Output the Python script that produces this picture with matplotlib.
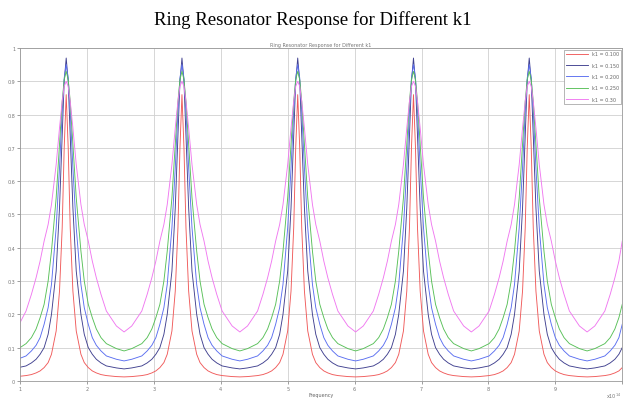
import matplotlib
matplotlib.use("Agg")
import matplotlib.pyplot as plt

# frequency axis (x 10^14), read at points around each resonance
freq = [1.00, 1.09, 1.17, 1.24, 1.30, 1.36, 1.42, 1.47, 1.54, 1.59, 1.63, 1.66, 1.69,
        1.72, 1.75, 1.79, 1.84, 1.91, 1.96, 2.02, 2.08, 2.14, 2.21, 2.29, 2.44, 2.555,
        2.67, 2.82, 2.90, 2.97, 3.03, 3.09, 3.15, 3.20, 3.27, 3.32, 3.36, 3.39, 3.42,
        3.45, 3.48, 3.52, 3.57, 3.64, 3.69, 3.75, 3.81, 3.87, 3.94, 4.02, 4.17, 4.285,
        4.40, 4.55, 4.63, 4.70, 4.76, 4.82, 4.88, 4.93, 5.00, 5.05, 5.09, 5.12, 5.15,
        5.18, 5.21, 5.25, 5.30, 5.37, 5.42, 5.48, 5.54, 5.60, 5.67, 5.75, 5.90, 6.015,
        6.13, 6.28, 6.36, 6.43, 6.49, 6.55, 6.61, 6.66, 6.73, 6.78, 6.82, 6.85, 6.88,
        6.91, 6.94, 6.98, 7.03, 7.10, 7.15, 7.21, 7.27, 7.33, 7.40, 7.48, 7.63, 7.745,
        7.86, 8.01, 8.09, 8.16, 8.22, 8.28, 8.34, 8.39, 8.46, 8.51, 8.55, 8.58, 8.61,
        8.64, 8.67, 8.71, 8.76, 8.83, 8.88, 8.94, 9.00, 9.06, 9.13, 9.21, 9.36, 9.475,
        9.59, 9.74, 9.82, 9.89, 9.95, 10.00]

k1_red = [0.014, 0.016, 0.019, 0.024, 0.03, 0.04, 0.055, 0.08, 0.15, 0.27, 0.46, 0.70, 0.86,
          0.70, 0.46, 0.27, 0.15, 0.08, 0.055, 0.04, 0.03, 0.024, 0.019, 0.016, 0.013, 0.012,
          0.013, 0.016, 0.019, 0.024, 0.03, 0.04, 0.055, 0.08, 0.15, 0.27, 0.46, 0.70, 0.86,
          0.70, 0.46, 0.27, 0.15, 0.08, 0.055, 0.04, 0.03, 0.024, 0.019, 0.016, 0.013, 0.012,
          0.013, 0.016, 0.019, 0.024, 0.03, 0.04, 0.055, 0.08, 0.15, 0.27, 0.46, 0.70, 0.86,
          0.70, 0.46, 0.27, 0.15, 0.08, 0.055, 0.04, 0.03, 0.024, 0.019, 0.016, 0.013, 0.012,
          0.013, 0.016, 0.019, 0.024, 0.03, 0.04, 0.055, 0.08, 0.15, 0.27, 0.46, 0.70, 0.86,
          0.70, 0.46, 0.27, 0.15, 0.08, 0.055, 0.04, 0.03, 0.024, 0.019, 0.016, 0.013, 0.012,
          0.013, 0.016, 0.019, 0.024, 0.03, 0.04, 0.055, 0.08, 0.15, 0.27, 0.46, 0.70, 0.86,
          0.70, 0.46, 0.27, 0.15, 0.08, 0.055, 0.04, 0.03, 0.024, 0.019, 0.016, 0.013, 0.012,
          0.013, 0.016, 0.019, 0.024, 0.03, 0.04]

k1_navy = [0.041, 0.045, 0.054, 0.065, 0.08, 0.10, 0.14, 0.20, 0.33, 0.52, 0.74, 0.90, 0.97,
           0.90, 0.74, 0.52, 0.33, 0.20, 0.14, 0.10, 0.08, 0.065, 0.054, 0.045, 0.039, 0.036,
           0.039, 0.045, 0.054, 0.065, 0.08, 0.10, 0.14, 0.20, 0.33, 0.52, 0.74, 0.90, 0.97,
           0.90, 0.74, 0.52, 0.33, 0.20, 0.14, 0.10, 0.08, 0.065, 0.054, 0.045, 0.039, 0.036,
           0.039, 0.045, 0.054, 0.065, 0.08, 0.10, 0.14, 0.20, 0.33, 0.52, 0.74, 0.90, 0.97,
           0.90, 0.74, 0.52, 0.33, 0.20, 0.14, 0.10, 0.08, 0.065, 0.054, 0.045, 0.039, 0.036,
           0.039, 0.045, 0.054, 0.065, 0.08, 0.10, 0.14, 0.20, 0.33, 0.52, 0.74, 0.90, 0.97,
           0.90, 0.74, 0.52, 0.33, 0.20, 0.14, 0.10, 0.08, 0.065, 0.054, 0.045, 0.039, 0.036,
           0.039, 0.045, 0.054, 0.065, 0.08, 0.10, 0.14, 0.20, 0.33, 0.52, 0.74, 0.90, 0.97,
           0.90, 0.74, 0.52, 0.33, 0.20, 0.14, 0.10, 0.08, 0.065, 0.054, 0.045, 0.039, 0.036,
           0.039, 0.045, 0.054, 0.065, 0.08, 0.10]

k1_blue = [0.068, 0.075, 0.09, 0.107, 0.13, 0.17, 0.22, 0.29, 0.46, 0.64, 0.81, 0.91, 0.95,
           0.91, 0.81, 0.64, 0.46, 0.29, 0.22, 0.17, 0.13, 0.107, 0.09, 0.075, 0.065, 0.06,
           0.065, 0.075, 0.09, 0.107, 0.13, 0.17, 0.22, 0.29, 0.46, 0.64, 0.81, 0.91, 0.95,
           0.91, 0.81, 0.64, 0.46, 0.29, 0.22, 0.17, 0.13, 0.107, 0.09, 0.075, 0.065, 0.06,
           0.065, 0.075, 0.09, 0.107, 0.13, 0.17, 0.22, 0.29, 0.46, 0.64, 0.81, 0.91, 0.95,
           0.91, 0.81, 0.64, 0.46, 0.29, 0.22, 0.17, 0.13, 0.107, 0.09, 0.075, 0.065, 0.06,
           0.065, 0.075, 0.09, 0.107, 0.13, 0.17, 0.22, 0.29, 0.46, 0.64, 0.81, 0.91, 0.95,
           0.91, 0.81, 0.64, 0.46, 0.29, 0.22, 0.17, 0.13, 0.107, 0.09, 0.075, 0.065, 0.06,
           0.065, 0.075, 0.09, 0.107, 0.13, 0.17, 0.22, 0.29, 0.46, 0.64, 0.81, 0.91, 0.95,
           0.91, 0.81, 0.64, 0.46, 0.29, 0.22, 0.17, 0.13, 0.107, 0.09, 0.075, 0.065, 0.06,
           0.065, 0.075, 0.09, 0.107, 0.13, 0.17]

k1_green = [0.10, 0.112, 0.13, 0.156, 0.19, 0.23, 0.30, 0.39, 0.55, 0.71, 0.84, 0.905, 0.93,
            0.905, 0.84, 0.71, 0.55, 0.39, 0.30, 0.23, 0.19, 0.156, 0.13, 0.112, 0.097, 0.09,
            0.097, 0.112, 0.13, 0.156, 0.19, 0.23, 0.30, 0.39, 0.55, 0.71, 0.84, 0.905, 0.93,
            0.905, 0.84, 0.71, 0.55, 0.39, 0.30, 0.23, 0.19, 0.156, 0.13, 0.112, 0.097, 0.09,
            0.097, 0.112, 0.13, 0.156, 0.19, 0.23, 0.30, 0.39, 0.55, 0.71, 0.84, 0.905, 0.93,
            0.905, 0.84, 0.71, 0.55, 0.39, 0.30, 0.23, 0.19, 0.156, 0.13, 0.112, 0.097, 0.09,
            0.097, 0.112, 0.13, 0.156, 0.19, 0.23, 0.30, 0.39, 0.55, 0.71, 0.84, 0.905, 0.93,
            0.905, 0.84, 0.71, 0.55, 0.39, 0.30, 0.23, 0.19, 0.156, 0.13, 0.112, 0.097, 0.09,
            0.097, 0.112, 0.13, 0.156, 0.19, 0.23, 0.30, 0.39, 0.55, 0.71, 0.84, 0.905, 0.93,
            0.905, 0.84, 0.71, 0.55, 0.39, 0.30, 0.23, 0.19, 0.156, 0.13, 0.112, 0.097, 0.09,
            0.097, 0.112, 0.13, 0.156, 0.19, 0.23]

k1_mag = [0.175, 0.21, 0.26, 0.31, 0.36, 0.42, 0.47, 0.53, 0.65, 0.76, 0.84, 0.885, 0.90,
          0.885, 0.84, 0.76, 0.65, 0.53, 0.47, 0.42, 0.36, 0.31, 0.26, 0.21, 0.165, 0.147,
          0.165, 0.21, 0.26, 0.31, 0.36, 0.42, 0.47, 0.53, 0.65, 0.76, 0.84, 0.885, 0.90,
          0.885, 0.84, 0.76, 0.65, 0.53, 0.47, 0.42, 0.36, 0.31, 0.26, 0.21, 0.165, 0.147,
          0.165, 0.21, 0.26, 0.31, 0.36, 0.42, 0.47, 0.53, 0.65, 0.76, 0.84, 0.885, 0.90,
          0.885, 0.84, 0.76, 0.65, 0.53, 0.47, 0.42, 0.36, 0.31, 0.26, 0.21, 0.165, 0.147,
          0.165, 0.21, 0.26, 0.31, 0.36, 0.42, 0.47, 0.53, 0.65, 0.76, 0.84, 0.885, 0.90,
          0.885, 0.84, 0.76, 0.65, 0.53, 0.47, 0.42, 0.36, 0.31, 0.26, 0.21, 0.165, 0.147,
          0.165, 0.21, 0.26, 0.31, 0.36, 0.42, 0.47, 0.53, 0.65, 0.76, 0.84, 0.885, 0.90,
          0.885, 0.84, 0.76, 0.65, 0.53, 0.47, 0.42, 0.36, 0.31, 0.26, 0.21, 0.165, 0.147,
          0.165, 0.21, 0.26, 0.31, 0.36, 0.42]

labels = ["k1 = 0.100", "k1 = 0.150", "k1 = 0.200", "k1 = 0.250", "k1 = 0.30"]
series = [k1_red, k1_navy, k1_blue, k1_green, k1_mag]
colors = ["#f05a5a", "#40408f", "#5a6ef0", "#58c058", "#f078f0"]

fig = plt.figure(figsize=(6.26, 4.02), dpi=100)
ax = fig.add_axes([0.032, 0.05, 0.962, 0.828])

for y, c, lab in zip(series, colors, labels):
    ax.plot(freq, y, color=c, lw=0.65, label=lab)

ax.set_xlim(1, 10)
ax.set_ylim(0, 1)
ax.set_xticks(range(1, 11))
ax.set_yticks([i / 10 for i in range(11)])
ax.set_yticklabels(["0", "0.1", "0.2", "0.3", "0.4", "0.5", "0.6", "0.7", "0.8", "0.9", "1"])
ax.set_xticklabels(["1", "2", "3", "4", "5", "6", "7", "8", "9", ""])
ax.tick_params(labelsize=3.5, colors="#777777", length=2, width=0.5, pad=1.5)
ax.grid(True, color="#d0d0d0", lw=0.6)
for s in ax.spines.values():
    s.set_color("#999999")
    s.set_linewidth(0.6)

ax.set_xlabel("Frequency", fontsize=3.5, color="#666666", labelpad=1)
ax.text(0.998, -0.028, "x10$^{14}$", transform=ax.transAxes, fontsize=3.5,
        color="#777777", ha="right", va="top")
ax.set_title("Ring Resonator Response for Different k1", fontsize=3.5,
             color="#777777", pad=1.5)

leg = ax.legend(loc="upper right", bbox_to_anchor=(1.0, 1.0), borderaxespad=0.3,
                fontsize=3.5, handlelength=4.5, labelspacing=1.3, fancybox=False,
                framealpha=1)
leg.get_frame().set_edgecolor("#999999")
leg.get_frame().set_linewidth(0.5)
for t in leg.get_texts():
    t.set_color("#666666")

fig.text(0.5, 1 - 20 / 402, "Ring Resonator Response for Different k1",
         ha="center", va="center", fontsize=13.5, family="Liberation Serif")

fig.savefig("out.png", dpi=100)
